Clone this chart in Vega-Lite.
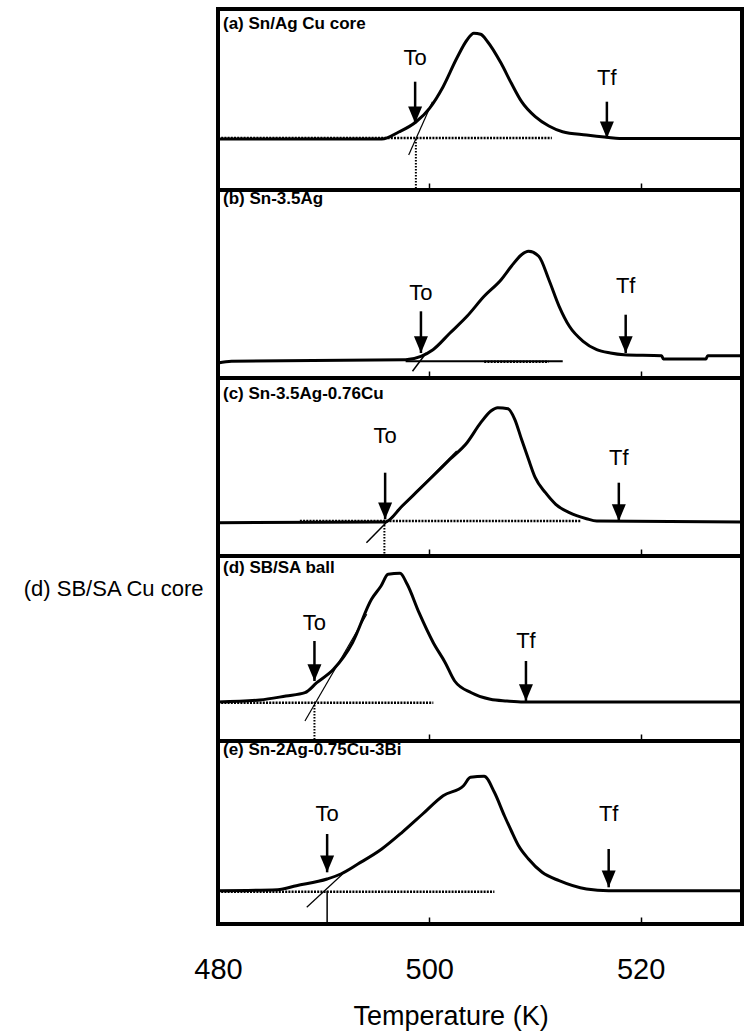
{
"$schema":"https://vega.github.io/schema/vega-lite/v6.json",
"background":"white",
"padding":{"left":20,"top":7,"right":0,"bottom":0},
"autosize":{"type":"pad"},
"spacing":0,
"bounds":"flush",
"config":{
 "view":{"stroke":"black","strokeWidth":4},
 "font":"Liberation Sans",
 "axisX":{"grid":false,"domain":false,"tickColor":"black","tickWidth":1.5,"tickSize":-7,"tickCount":3,"labelFlush":false,"labelColor":"black","labelFontSize":29,"labelPadding":38,"titleColor":"black","titleFontSize":27,"titleFontWeight":"normal","labelFont":"Liberation Sans","titleFont":"Liberation Sans"},
 "title":{"anchor":"start","frame":"group","fontSize":17,"fontWeight":"bold","font":"Liberation Sans","baseline":"alphabetic","dx":5,"color":"black"}
},
"datasets":{
"curves":[
{"p":"a","x":480,"y":51},{"p":"a","x":495.5,"y":51},{"p":"a","x":497.11,"y":58},{"p":"a","x":498.73,"y":68},{"p":"a","x":500.02,"y":81.7},{"p":"a","x":501.31,"y":103.3},{"p":"a","x":502.6,"y":131.7},{"p":"a","x":503.57,"y":150},{"p":"a","x":504.22,"y":156.7},{"p":"a","x":504.86,"y":155.7},{"p":"a","x":505.52,"y":148.3},{"p":"a","x":506.8,"y":126.7},{"p":"a","x":507.77,"y":106.7},{"p":"a","x":508.74,"y":88.3},{"p":"a","x":510.03,"y":73.3},{"p":"a","x":511.32,"y":64},{"p":"a","x":512.61,"y":58.3},{"p":"a","x":514.88,"y":55},{"p":"a","x":516.81,"y":52.7},{"p":"a","x":518,"y":51.5},{"p":"a","x":529.6,"y":51.5},
{"p":"b","x":480,"y":15},{"p":"b","x":481.28,"y":16.7},{"p":"b","x":497.76,"y":18.3},{"p":"b","x":499.21,"y":21.7},{"p":"b","x":500.35,"y":28.3},{"p":"b","x":501.96,"y":45},{"p":"b","x":503.57,"y":61.7},{"p":"b","x":505.19,"y":81.7},{"p":"b","x":506.8,"y":98.3},{"p":"b","x":507.77,"y":111.7},{"p":"b","x":508.73,"y":123.3},{"p":"b","x":509.39,"y":126.7},{"p":"b","x":510.36,"y":121.7},{"p":"b","x":511.32,"y":98.3},{"p":"b","x":512.29,"y":71.7},{"p":"b","x":513.26,"y":51.7},{"p":"b","x":514.56,"y":36.7},{"p":"b","x":515.85,"y":28.3},{"p":"b","x":517.14,"y":25},{"p":"b","x":518.43,"y":23.3},{"p":"b","x":521.99,"y":22.3},{"p":"b","x":522.15,"y":19},{"p":"b","x":526.19,"y":19},{"p":"b","x":526.35,"y":22.3},{"p":"b","x":529.6,"y":22.3},
{"p":"c","x":480,"y":33.3},{"p":"c","x":495.82,"y":34},{"p":"c","x":497.43,"y":50},{"p":"c","x":498.73,"y":63.3},{"p":"c","x":500.35,"y":80},{"p":"c","x":501.96,"y":96.7},{"p":"c","x":503.57,"y":113.3},{"p":"c","x":504.87,"y":133.3},{"p":"c","x":505.83,"y":145},{"p":"c","x":506.48,"y":148.3},{"p":"c","x":507.45,"y":147.3},{"p":"c","x":508.09,"y":136.7},{"p":"c","x":508.73,"y":116.7},{"p":"c","x":509.39,"y":96.7},{"p":"c","x":510.03,"y":78.3},{"p":"c","x":511,"y":63.3},{"p":"c","x":511.97,"y":51.7},{"p":"c","x":513.26,"y":43.3},{"p":"c","x":514.88,"y":37.3},{"p":"c","x":515.85,"y":35},{"p":"c","x":529.6,"y":34},
{"p":"d","x":480,"y":39},{"p":"d","x":483.96,"y":41},{"p":"d","x":486.43,"y":45},{"p":"d","x":488.23,"y":48.3},{"p":"d","x":489.35,"y":58.3},{"p":"d","x":490.93,"y":71.7},{"p":"d","x":492.73,"y":98.3},{"p":"d","x":494.53,"y":141.7},{"p":"d","x":495.43,"y":155},{"p":"d","x":496.1,"y":166.7},{"p":"d","x":497.23,"y":167.7},{"p":"d","x":497.91,"y":156.7},{"p":"d","x":499.03,"y":128.3},{"p":"d","x":500.38,"y":98.3},{"p":"d","x":501.51,"y":78.3},{"p":"d","x":502.4,"y":60},{"p":"d","x":503.98,"y":48.3},{"p":"d","x":505.78,"y":41.7},{"p":"d","x":507.35,"y":40},{"p":"d","x":508.93,"y":39},{"p":"d","x":529.6,"y":39},
{"p":"e","x":480,"y":33.3},{"p":"e","x":485.64,"y":34.3},{"p":"e","x":487.42,"y":38.3},{"p":"e","x":490.33,"y":45},{"p":"e","x":491.62,"y":50},{"p":"e","x":493.24,"y":60},{"p":"e","x":495.5,"y":75},{"p":"e","x":497.43,"y":91.7},{"p":"e","x":499.37,"y":110},{"p":"e","x":501.31,"y":128.3},{"p":"e","x":503.24,"y":138.3},{"p":"e","x":503.9,"y":146.7},{"p":"e","x":505.19,"y":147.7},{"p":"e","x":506.16,"y":131.7},{"p":"e","x":507.12,"y":108},{"p":"e","x":507.77,"y":93},{"p":"e","x":508.41,"y":79},{"p":"e","x":509.39,"y":65},{"p":"e","x":510.68,"y":51.7},{"p":"e","x":512.29,"y":43.3},{"p":"e","x":514.88,"y":35},{"p":"e","x":516.98,"y":33.3},{"p":"e","x":529.6,"y":33.3}
],
"segs":[
{"p":"a","kind":"dot","x":480,"x2":511.6,"y":52,"y2":52},
{"p":"a","kind":"drop","x":498.73,"x2":498.73,"y":51,"y2":0},
{"p":"a","kind":"tan","x":498.05,"x2":500.3,"y":35,"y2":88.3},
{"p":"b","kind":"thin","x":497.76,"x2":512.63,"y":16.7,"y2":16.7},
{"p":"b","kind":"dot","x":505.2,"x2":511.3,"y":16.2,"y2":16.2},
{"p":"b","kind":"tan","x":498.41,"x2":499.7,"y":6.7,"y2":25},
{"p":"c","kind":"dot","x":487.75,"x2":514.39,"y":35,"y2":35},
{"p":"c","kind":"drop","x":495.75,"x2":495.75,"y":34,"y2":0},
{"p":"c","kind":"tan","x":494.05,"x2":502.6,"y":13.3,"y2":105},
{"p":"d","kind":"dot","x":480,"x2":500.38,"y":38.3,"y2":38.3},
{"p":"d","kind":"drop","x":489.13,"x2":489.13,"y":39,"y2":0},
{"p":"d","kind":"tan","x":488.23,"x2":494.08,"y":20,"y2":126.7},
{"p":"e","kind":"dot","x":480,"x2":506.16,"y":32.3,"y2":32.3},
{"p":"e","kind":"thin","x":490.33,"x2":490.33,"y":33.3,"y2":0},
{"p":"e","kind":"tan","x":488.4,"x2":491.8,"y":16.7,"y2":50}
],
"arrows":[
{"p":"a","label":"To","x":498.66,"top":108.3,"tip":66.7,"ly":131.7},
{"p":"a","label":"Tf","x":516.81,"top":88.3,"tip":51.7,"ly":111.7},
{"p":"b","label":"To","x":499.21,"top":66.7,"tip":25,"ly":85},
{"p":"b","label":"Tf","x":518.59,"top":63.3,"tip":25,"ly":91.7},
{"p":"c","label":"To","x":495.82,"top":83.3,"tip":36.7,"ly":120},
{"p":"c","label":"Tf","x":517.94,"top":73.3,"tip":35,"ly":98.3},
{"p":"d","label":"To","x":489.13,"top":100,"tip":60,"ly":118.3},
{"p":"d","label":"Tf","x":509.15,"top":80,"tip":40,"ly":100},
{"p":"e","label":"To","x":490.33,"top":90,"tip":51.7,"ly":110},
{"p":"e","label":"Tf","x":516.98,"top":75,"tip":36.7,"ly":110}
]
},
"vconcat":[
{"width":524,"height":181,"title":{"text":"(a) Sn/Ag Cu core","offset":-24},
 "layer":[
  {"data":{"name":"curves"},"transform":[{"filter":"datum.p==='a'"}],"mark":{"type":"line","color":"black","strokeWidth":3,"strokeJoin":"round","interpolate":"monotone"},
   "encoding":{"x":{"field":"x","type":"quantitative","scale":{"domain":[480,529.6],"nice":false,"zero":false},"axis":{"title":null,"labels":false}},"y":{"field":"y","type":"quantitative","scale":{"domain":[0,181],"nice":false,"zero":false},"axis":null}}},
  {"data":{"name":"segs"},"transform":[{"filter":"datum.p==='a' && datum.kind==='dot'"}],"mark":{"type":"rule","color":"black","strokeWidth":2.5,"strokeDash":[2,1.2]},
   "encoding":{"x":{"field":"x","type":"quantitative","scale":{"domain":[480,529.6],"nice":false,"zero":false},"axis":{"title":null,"labels":false}},"x2":{"field":"x2"},"y":{"field":"y","type":"quantitative","scale":{"domain":[0,181],"nice":false,"zero":false},"axis":null},"y2":{"field":"y2"}}},
  {"data":{"name":"segs"},"transform":[{"filter":"datum.p==='a' && datum.kind==='drop'"}],"mark":{"type":"rule","color":"black","strokeWidth":2,"strokeDash":[1.5,1.5]},
   "encoding":{"x":{"field":"x","type":"quantitative","scale":{"domain":[480,529.6],"nice":false,"zero":false},"axis":{"title":null,"labels":false}},"x2":{"field":"x2"},"y":{"field":"y","type":"quantitative","scale":{"domain":[0,181],"nice":false,"zero":false},"axis":null},"y2":{"field":"y2"}}},
  {"data":{"name":"segs"},"transform":[{"filter":"datum.p==='a' && datum.kind==='tan'"}],"mark":{"type":"rule","color":"black","strokeWidth":1.2},
   "encoding":{"x":{"field":"x","type":"quantitative","scale":{"domain":[480,529.6],"nice":false,"zero":false},"axis":{"title":null,"labels":false}},"x2":{"field":"x2"},"y":{"field":"y","type":"quantitative","scale":{"domain":[0,181],"nice":false,"zero":false},"axis":null},"y2":{"field":"y2"}}},
  {"data":{"name":"arrows"},"transform":[{"filter":"datum.p==='a'"}],"mark":{"type":"rule","color":"black","strokeWidth":2.5},
   "encoding":{"x":{"field":"x","type":"quantitative","scale":{"domain":[480,529.6],"nice":false,"zero":false},"axis":{"title":null,"labels":false}},"y":{"field":"top","type":"quantitative","scale":{"domain":[0,181],"nice":false,"zero":false},"axis":null},"y2":{"field":"tip"}}},
  {"data":{"name":"arrows"},"transform":[{"filter":"datum.p==='a'"}],"mark":{"type":"point","shape":"M-1,-2.4L1,-2.4L0,0Z","size":196,"filled":true,"color":"black","opacity":1},
   "encoding":{"x":{"field":"x","type":"quantitative","scale":{"domain":[480,529.6],"nice":false,"zero":false},"axis":{"title":null,"labels":false}},"y":{"field":"tip","type":"quantitative","scale":{"domain":[0,181],"nice":false,"zero":false},"axis":null}}},
  {"data":{"name":"arrows"},"transform":[{"filter":"datum.p==='a'"}],"mark":{"type":"text","fontSize":22,"color":"black","font":"Liberation Sans"},
   "encoding":{"x":{"field":"x","type":"quantitative","scale":{"domain":[480,529.6],"nice":false,"zero":false},"axis":{"title":null,"labels":false}},"y":{"field":"ly","type":"quantitative","scale":{"domain":[0,181],"nice":false,"zero":false},"axis":null},"text":{"field":"label"}}}
 ]},
{"width":524,"height":188,"title":{"text":"(b) Sn-3.5Ag","offset":-18},
 "layer":[
  {"data":{"name":"curves"},"transform":[{"filter":"datum.p==='b'"}],"mark":{"type":"line","color":"black","strokeWidth":3,"strokeJoin":"round","interpolate":"monotone"},
   "encoding":{"x":{"field":"x","type":"quantitative","scale":{"domain":[480,529.6],"nice":false,"zero":false},"axis":{"title":null,"labels":false}},"y":{"field":"y","type":"quantitative","scale":{"domain":[0,188],"nice":false,"zero":false},"axis":null}}},
  {"data":{"name":"segs"},"transform":[{"filter":"datum.p==='b' && datum.kind==='thin'"}],"mark":{"type":"rule","color":"black","strokeWidth":2},
   "encoding":{"x":{"field":"x","type":"quantitative","scale":{"domain":[480,529.6],"nice":false,"zero":false},"axis":{"title":null,"labels":false}},"x2":{"field":"x2"},"y":{"field":"y","type":"quantitative","scale":{"domain":[0,188],"nice":false,"zero":false},"axis":null},"y2":{"field":"y2"}}},
  {"data":{"name":"segs"},"transform":[{"filter":"datum.p==='b' && datum.kind==='dot'"}],"mark":{"type":"rule","color":"black","strokeWidth":2.5,"strokeDash":[2,1.2]},
   "encoding":{"x":{"field":"x","type":"quantitative","scale":{"domain":[480,529.6],"nice":false,"zero":false},"axis":{"title":null,"labels":false}},"x2":{"field":"x2"},"y":{"field":"y","type":"quantitative","scale":{"domain":[0,188],"nice":false,"zero":false},"axis":null},"y2":{"field":"y2"}}},
  {"data":{"name":"segs"},"transform":[{"filter":"datum.p==='b' && datum.kind==='tan'"}],"mark":{"type":"rule","color":"black","strokeWidth":1.5},
   "encoding":{"x":{"field":"x","type":"quantitative","scale":{"domain":[480,529.6],"nice":false,"zero":false},"axis":{"title":null,"labels":false}},"x2":{"field":"x2"},"y":{"field":"y","type":"quantitative","scale":{"domain":[0,188],"nice":false,"zero":false},"axis":null},"y2":{"field":"y2"}}},
  {"data":{"name":"arrows"},"transform":[{"filter":"datum.p==='b'"}],"mark":{"type":"rule","color":"black","strokeWidth":2.5},
   "encoding":{"x":{"field":"x","type":"quantitative","scale":{"domain":[480,529.6],"nice":false,"zero":false},"axis":{"title":null,"labels":false}},"y":{"field":"top","type":"quantitative","scale":{"domain":[0,188],"nice":false,"zero":false},"axis":null},"y2":{"field":"tip"}}},
  {"data":{"name":"arrows"},"transform":[{"filter":"datum.p==='b'"}],"mark":{"type":"point","shape":"M-1,-2.4L1,-2.4L0,0Z","size":196,"filled":true,"color":"black","opacity":1},
   "encoding":{"x":{"field":"x","type":"quantitative","scale":{"domain":[480,529.6],"nice":false,"zero":false},"axis":{"title":null,"labels":false}},"y":{"field":"tip","type":"quantitative","scale":{"domain":[0,188],"nice":false,"zero":false},"axis":null}}},
  {"data":{"name":"arrows"},"transform":[{"filter":"datum.p==='b'"}],"mark":{"type":"text","fontSize":22,"color":"black","font":"Liberation Sans"},
   "encoding":{"x":{"field":"x","type":"quantitative","scale":{"domain":[480,529.6],"nice":false,"zero":false},"axis":{"title":null,"labels":false}},"y":{"field":"ly","type":"quantitative","scale":{"domain":[0,188],"nice":false,"zero":false},"axis":null},"text":{"field":"label"}}}
 ]},
{"width":524,"height":178,"title":{"text":"(c) Sn-3.5Ag-0.76Cu","offset":-25},
 "layer":[
  {"data":{"name":"curves"},"transform":[{"filter":"datum.p==='c'"}],"mark":{"type":"line","color":"black","strokeWidth":3,"strokeJoin":"round","interpolate":"monotone"},
   "encoding":{"x":{"field":"x","type":"quantitative","scale":{"domain":[480,529.6],"nice":false,"zero":false},"axis":{"title":null,"labels":false}},"y":{"field":"y","type":"quantitative","scale":{"domain":[0,178],"nice":false,"zero":false},"axis":null}}},
  {"data":{"name":"segs"},"transform":[{"filter":"datum.p==='c' && datum.kind==='dot'"}],"mark":{"type":"rule","color":"black","strokeWidth":2.5,"strokeDash":[2,1.2]},
   "encoding":{"x":{"field":"x","type":"quantitative","scale":{"domain":[480,529.6],"nice":false,"zero":false},"axis":{"title":null,"labels":false}},"x2":{"field":"x2"},"y":{"field":"y","type":"quantitative","scale":{"domain":[0,178],"nice":false,"zero":false},"axis":null},"y2":{"field":"y2"}}},
  {"data":{"name":"segs"},"transform":[{"filter":"datum.p==='c' && datum.kind==='drop'"}],"mark":{"type":"rule","color":"black","strokeWidth":2,"strokeDash":[1.5,1.5]},
   "encoding":{"x":{"field":"x","type":"quantitative","scale":{"domain":[480,529.6],"nice":false,"zero":false},"axis":{"title":null,"labels":false}},"x2":{"field":"x2"},"y":{"field":"y","type":"quantitative","scale":{"domain":[0,178],"nice":false,"zero":false},"axis":null},"y2":{"field":"y2"}}},
  {"data":{"name":"segs"},"transform":[{"filter":"datum.p==='c' && datum.kind==='tan'"}],"mark":{"type":"rule","color":"black","strokeWidth":1.5},
   "encoding":{"x":{"field":"x","type":"quantitative","scale":{"domain":[480,529.6],"nice":false,"zero":false},"axis":{"title":null,"labels":false}},"x2":{"field":"x2"},"y":{"field":"y","type":"quantitative","scale":{"domain":[0,178],"nice":false,"zero":false},"axis":null},"y2":{"field":"y2"}}},
  {"data":{"name":"arrows"},"transform":[{"filter":"datum.p==='c'"}],"mark":{"type":"rule","color":"black","strokeWidth":2.5},
   "encoding":{"x":{"field":"x","type":"quantitative","scale":{"domain":[480,529.6],"nice":false,"zero":false},"axis":{"title":null,"labels":false}},"y":{"field":"top","type":"quantitative","scale":{"domain":[0,178],"nice":false,"zero":false},"axis":null},"y2":{"field":"tip"}}},
  {"data":{"name":"arrows"},"transform":[{"filter":"datum.p==='c'"}],"mark":{"type":"point","shape":"M-1,-2.4L1,-2.4L0,0Z","size":196,"filled":true,"color":"black","opacity":1},
   "encoding":{"x":{"field":"x","type":"quantitative","scale":{"domain":[480,529.6],"nice":false,"zero":false},"axis":{"title":null,"labels":false}},"y":{"field":"tip","type":"quantitative","scale":{"domain":[0,178],"nice":false,"zero":false},"axis":null}}},
  {"data":{"name":"arrows"},"transform":[{"filter":"datum.p==='c'"}],"mark":{"type":"text","fontSize":22,"color":"black","font":"Liberation Sans"},
   "encoding":{"x":{"field":"x","type":"quantitative","scale":{"domain":[480,529.6],"nice":false,"zero":false},"axis":{"title":null,"labels":false}},"y":{"field":"ly","type":"quantitative","scale":{"domain":[0,178],"nice":false,"zero":false},"axis":null},"text":{"field":"label"}}}
 ]},
{"width":524,"height":185,"title":{"text":"(d) SB/SA ball","offset":-21},
 "layer":[
  {"data":{"name":"curves"},"transform":[{"filter":"datum.p==='d'"}],"mark":{"type":"line","color":"black","strokeWidth":3,"strokeJoin":"round","interpolate":"monotone"},
   "encoding":{"x":{"field":"x","type":"quantitative","scale":{"domain":[480,529.6],"nice":false,"zero":false},"axis":{"title":null,"labels":false}},"y":{"field":"y","type":"quantitative","scale":{"domain":[0,185],"nice":false,"zero":false},"axis":{"title":"(d) SB/SA Cu core","labels":false,"ticks":false,"domain":false,"grid":false,"titleAngle":0,"titleAlign":"right","titleBaseline":"middle","titleX":-15,"titleY":32.5,"titleFontSize":22,"titleFontWeight":"normal","titleColor":"black","titleFont":"Liberation Sans"}}}},
  {"data":{"name":"segs"},"transform":[{"filter":"datum.p==='d' && datum.kind==='dot'"}],"mark":{"type":"rule","color":"black","strokeWidth":2.5,"strokeDash":[2,1.2]},
   "encoding":{"x":{"field":"x","type":"quantitative","scale":{"domain":[480,529.6],"nice":false,"zero":false},"axis":{"title":null,"labels":false}},"x2":{"field":"x2"},"y":{"field":"y","type":"quantitative","scale":{"domain":[0,185],"nice":false,"zero":false},"axis":{"title":"(d) SB/SA Cu core","labels":false,"ticks":false,"domain":false,"grid":false,"titleAngle":0,"titleAlign":"right","titleBaseline":"middle","titleX":-15,"titleY":32.5,"titleFontSize":22,"titleFontWeight":"normal","titleColor":"black","titleFont":"Liberation Sans"}},"y2":{"field":"y2"}}},
  {"data":{"name":"segs"},"transform":[{"filter":"datum.p==='d' && datum.kind==='drop'"}],"mark":{"type":"rule","color":"black","strokeWidth":2,"strokeDash":[1.5,1.5]},
   "encoding":{"x":{"field":"x","type":"quantitative","scale":{"domain":[480,529.6],"nice":false,"zero":false},"axis":{"title":null,"labels":false}},"x2":{"field":"x2"},"y":{"field":"y","type":"quantitative","scale":{"domain":[0,185],"nice":false,"zero":false},"axis":{"title":"(d) SB/SA Cu core","labels":false,"ticks":false,"domain":false,"grid":false,"titleAngle":0,"titleAlign":"right","titleBaseline":"middle","titleX":-15,"titleY":32.5,"titleFontSize":22,"titleFontWeight":"normal","titleColor":"black","titleFont":"Liberation Sans"}},"y2":{"field":"y2"}}},
  {"data":{"name":"segs"},"transform":[{"filter":"datum.p==='d' && datum.kind==='tan'"}],"mark":{"type":"rule","color":"black","strokeWidth":1.2},
   "encoding":{"x":{"field":"x","type":"quantitative","scale":{"domain":[480,529.6],"nice":false,"zero":false},"axis":{"title":null,"labels":false}},"x2":{"field":"x2"},"y":{"field":"y","type":"quantitative","scale":{"domain":[0,185],"nice":false,"zero":false},"axis":{"title":"(d) SB/SA Cu core","labels":false,"ticks":false,"domain":false,"grid":false,"titleAngle":0,"titleAlign":"right","titleBaseline":"middle","titleX":-15,"titleY":32.5,"titleFontSize":22,"titleFontWeight":"normal","titleColor":"black","titleFont":"Liberation Sans"}},"y2":{"field":"y2"}}},
  {"data":{"name":"arrows"},"transform":[{"filter":"datum.p==='d'"}],"mark":{"type":"rule","color":"black","strokeWidth":2.5},
   "encoding":{"x":{"field":"x","type":"quantitative","scale":{"domain":[480,529.6],"nice":false,"zero":false},"axis":{"title":null,"labels":false}},"y":{"field":"top","type":"quantitative","scale":{"domain":[0,185],"nice":false,"zero":false},"axis":{"title":"(d) SB/SA Cu core","labels":false,"ticks":false,"domain":false,"grid":false,"titleAngle":0,"titleAlign":"right","titleBaseline":"middle","titleX":-15,"titleY":32.5,"titleFontSize":22,"titleFontWeight":"normal","titleColor":"black","titleFont":"Liberation Sans"}},"y2":{"field":"tip"}}},
  {"data":{"name":"arrows"},"transform":[{"filter":"datum.p==='d'"}],"mark":{"type":"point","shape":"M-1,-2.4L1,-2.4L0,0Z","size":196,"filled":true,"color":"black","opacity":1},
   "encoding":{"x":{"field":"x","type":"quantitative","scale":{"domain":[480,529.6],"nice":false,"zero":false},"axis":{"title":null,"labels":false}},"y":{"field":"tip","type":"quantitative","scale":{"domain":[0,185],"nice":false,"zero":false},"axis":{"title":"(d) SB/SA Cu core","labels":false,"ticks":false,"domain":false,"grid":false,"titleAngle":0,"titleAlign":"right","titleBaseline":"middle","titleX":-15,"titleY":32.5,"titleFontSize":22,"titleFontWeight":"normal","titleColor":"black","titleFont":"Liberation Sans"}}}},
  {"data":{"name":"arrows"},"transform":[{"filter":"datum.p==='d'"}],"mark":{"type":"text","fontSize":22,"color":"black","font":"Liberation Sans"},
   "encoding":{"x":{"field":"x","type":"quantitative","scale":{"domain":[480,529.6],"nice":false,"zero":false},"axis":{"title":null,"labels":false}},"y":{"field":"ly","type":"quantitative","scale":{"domain":[0,185],"nice":false,"zero":false},"axis":{"title":"(d) SB/SA Cu core","labels":false,"ticks":false,"domain":false,"grid":false,"titleAngle":0,"titleAlign":"right","titleBaseline":"middle","titleX":-15,"titleY":32.5,"titleFontSize":22,"titleFontWeight":"normal","titleColor":"black","titleFont":"Liberation Sans"}},"text":{"field":"label"}}}
 ]},
{"width":524,"height":183,"title":{"text":"(e) Sn-2Ag-0.75Cu-3Bi","offset":-18},
 "layer":[
  {"data":{"name":"curves"},"transform":[{"filter":"datum.p==='e'"}],"mark":{"type":"line","color":"black","strokeWidth":3,"strokeJoin":"round","interpolate":"monotone"},
   "encoding":{"x":{"field":"x","type":"quantitative","scale":{"domain":[480,529.6],"nice":false,"zero":false},"axis":{"title":"Temperature (K)","labels":true,"titleX":232.6,"titleY":79,"titleBaseline":"top","titleAlign":"center"}},"y":{"field":"y","type":"quantitative","scale":{"domain":[0,183],"nice":false,"zero":false},"axis":null}}},
  {"data":{"name":"segs"},"transform":[{"filter":"datum.p==='e' && datum.kind==='dot'"}],"mark":{"type":"rule","color":"black","strokeWidth":2.5,"strokeDash":[2,1.2]},
   "encoding":{"x":{"field":"x","type":"quantitative","scale":{"domain":[480,529.6],"nice":false,"zero":false},"axis":{"title":"Temperature (K)","labels":true,"titleX":232.6,"titleY":79,"titleBaseline":"top","titleAlign":"center"}},"x2":{"field":"x2"},"y":{"field":"y","type":"quantitative","scale":{"domain":[0,183],"nice":false,"zero":false},"axis":null},"y2":{"field":"y2"}}},
  {"data":{"name":"segs"},"transform":[{"filter":"datum.p==='e' && datum.kind==='thin'"}],"mark":{"type":"rule","color":"black","strokeWidth":1.5},
   "encoding":{"x":{"field":"x","type":"quantitative","scale":{"domain":[480,529.6],"nice":false,"zero":false},"axis":{"title":"Temperature (K)","labels":true,"titleX":232.6,"titleY":79,"titleBaseline":"top","titleAlign":"center"}},"x2":{"field":"x2"},"y":{"field":"y","type":"quantitative","scale":{"domain":[0,183],"nice":false,"zero":false},"axis":null},"y2":{"field":"y2"}}},
  {"data":{"name":"segs"},"transform":[{"filter":"datum.p==='e' && datum.kind==='tan'"}],"mark":{"type":"rule","color":"black","strokeWidth":1.2},
   "encoding":{"x":{"field":"x","type":"quantitative","scale":{"domain":[480,529.6],"nice":false,"zero":false},"axis":{"title":"Temperature (K)","labels":true,"titleX":232.6,"titleY":79,"titleBaseline":"top","titleAlign":"center"}},"x2":{"field":"x2"},"y":{"field":"y","type":"quantitative","scale":{"domain":[0,183],"nice":false,"zero":false},"axis":null},"y2":{"field":"y2"}}},
  {"data":{"name":"arrows"},"transform":[{"filter":"datum.p==='e'"}],"mark":{"type":"rule","color":"black","strokeWidth":2.5},
   "encoding":{"x":{"field":"x","type":"quantitative","scale":{"domain":[480,529.6],"nice":false,"zero":false},"axis":{"title":"Temperature (K)","labels":true,"titleX":232.6,"titleY":79,"titleBaseline":"top","titleAlign":"center"}},"y":{"field":"top","type":"quantitative","scale":{"domain":[0,183],"nice":false,"zero":false},"axis":null},"y2":{"field":"tip"}}},
  {"data":{"name":"arrows"},"transform":[{"filter":"datum.p==='e'"}],"mark":{"type":"point","shape":"M-1,-2.4L1,-2.4L0,0Z","size":196,"filled":true,"color":"black","opacity":1},
   "encoding":{"x":{"field":"x","type":"quantitative","scale":{"domain":[480,529.6],"nice":false,"zero":false},"axis":{"title":"Temperature (K)","labels":true,"titleX":232.6,"titleY":79,"titleBaseline":"top","titleAlign":"center"}},"y":{"field":"tip","type":"quantitative","scale":{"domain":[0,183],"nice":false,"zero":false},"axis":null}}},
  {"data":{"name":"arrows"},"transform":[{"filter":"datum.p==='e'"}],"mark":{"type":"text","fontSize":22,"color":"black","font":"Liberation Sans"},
   "encoding":{"x":{"field":"x","type":"quantitative","scale":{"domain":[480,529.6],"nice":false,"zero":false},"axis":{"title":"Temperature (K)","labels":true,"titleX":232.6,"titleY":79,"titleBaseline":"top","titleAlign":"center"}},"y":{"field":"ly","type":"quantitative","scale":{"domain":[0,183],"nice":false,"zero":false},"axis":null},"text":{"field":"label"}}}
 ]}
]
}
